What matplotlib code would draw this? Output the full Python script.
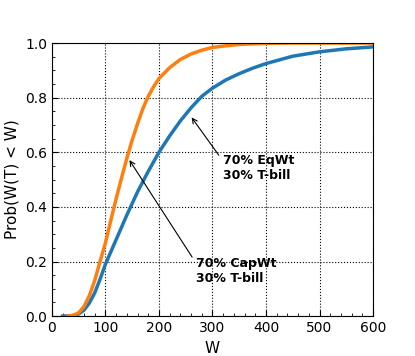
import matplotlib
matplotlib.use("Agg")
import matplotlib.pyplot as plt
from matplotlib.ticker import MultipleLocator

# EqWt: 70% equal-weight / 30% T-bill
w_eq = [20, 40, 50, 60, 70, 80, 90, 100, 110, 120, 140, 160, 180, 200, 220,
        240, 260, 280, 300, 325, 350, 375, 400, 450, 500, 550, 600]
p_eq = [0, 0.002, 0.008, 0.022, 0.048, 0.085, 0.135, 0.19, 0.235, 0.28, 0.37,
        0.455, 0.53, 0.6, 0.66, 0.715, 0.763, 0.805, 0.835, 0.865, 0.888, 0.908,
        0.925, 0.952, 0.968, 0.979, 0.986]

# CapWt: 70% cap-weight / 30% T-bill
w_cap = [30, 40, 50, 60, 70, 80, 90, 100, 110, 120, 130, 140, 150, 160, 170,
         180, 190, 200, 220, 240, 260, 280, 300, 325, 350, 400, 450, 600]
p_cap = [0, 0.003, 0.012, 0.035, 0.075, 0.13, 0.2, 0.268, 0.35, 0.43, 0.505,
         0.578, 0.645, 0.705, 0.76, 0.805, 0.84, 0.87, 0.91, 0.94, 0.96, 0.974,
         0.984, 0.99, 0.995, 0.999, 1.0, 1.0]

fig = plt.figure(figsize=(4.15, 3.56), dpi=100)
ax = fig.add_axes([0.125, 0.112, 0.774, 0.767])

ax.plot(w_eq, p_eq, color="#1f77b4", lw=2.5)
ax.plot(w_cap, p_cap, color="#ff7f0e", lw=2.5)

ax.set_xlim(0, 600)
ax.set_ylim(0, 1.0)
ax.xaxis.set_major_locator(MultipleLocator(100))
ax.xaxis.set_minor_locator(MultipleLocator(20))
ax.yaxis.set_major_locator(MultipleLocator(0.2))
ax.yaxis.set_minor_locator(MultipleLocator(0.05))
ax.tick_params(which="both", direction="in")
ax.tick_params(which="major", length=4, labelsize=10)
ax.tick_params(which="minor", length=2)
ax.grid(True, which="major", color="black", linestyle=":", linewidth=0.8)

ax.set_xlabel("W", fontsize=11)
ax.set_ylabel("Prob(W(T) < W)", fontsize=11)

ax.annotate("70% EqWt\n30% T-bill", xy=(258, 0.736), xytext=(320, 0.49),
            fontsize=9, fontweight="bold", va="bottom",
            arrowprops=dict(arrowstyle="->", color="black", lw=0.8,
                            relpos=(0, 0.75)))
ax.annotate("70% CapWt\n30% T-bill", xy=(142, 0.58), xytext=(270, 0.115),
            fontsize=9, fontweight="bold", va="bottom",
            arrowprops=dict(arrowstyle="->", color="black", lw=0.8,
                            relpos=(0, 0.75)))

fig.savefig("out.png", dpi=100)
